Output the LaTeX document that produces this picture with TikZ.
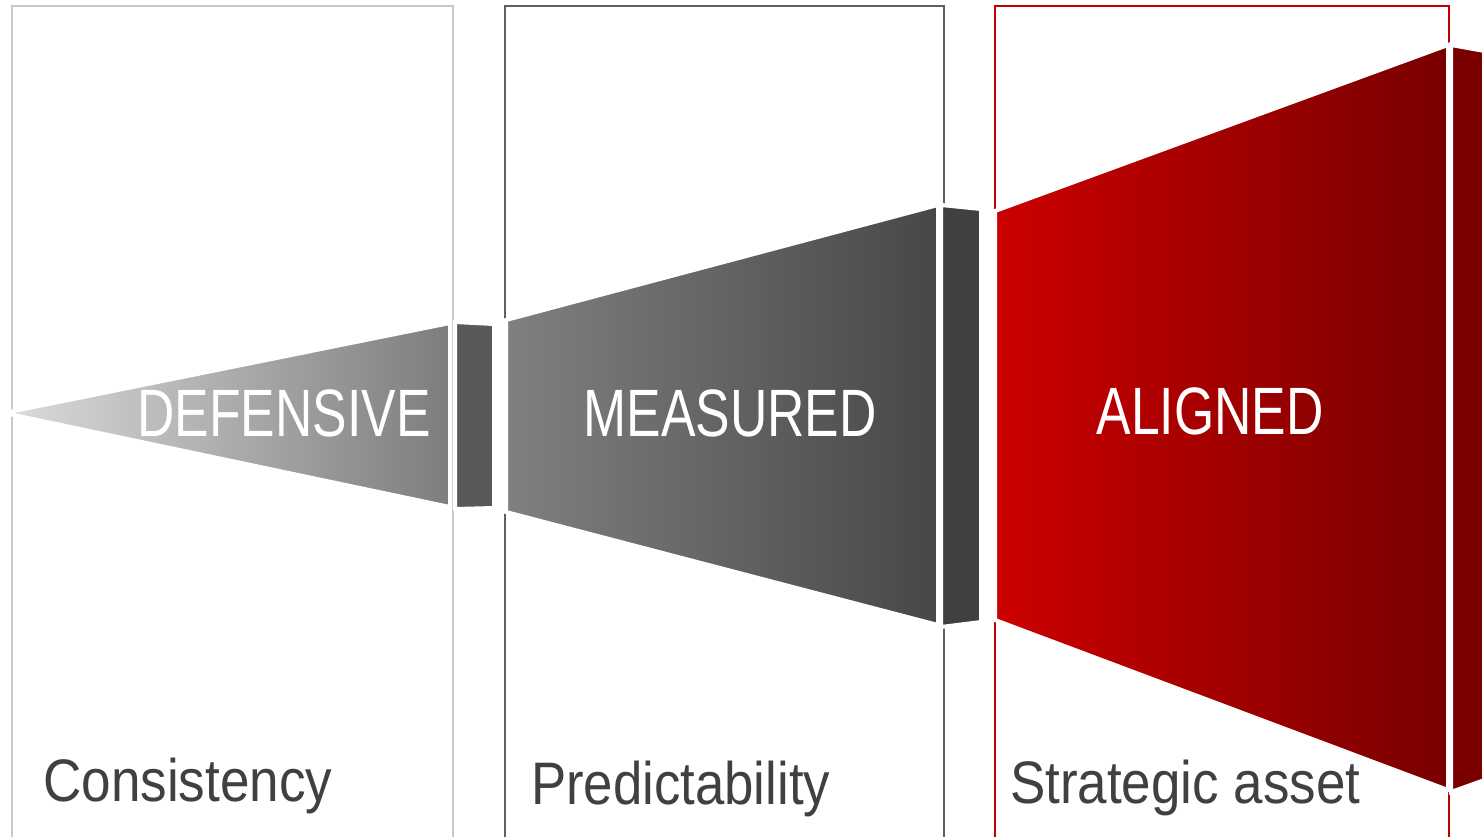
\documentclass[tikz,border=0pt]{standalone}
\usepackage{fontspec}
\setmainfont{Liberation Sans}
\usepackage{graphicx}
\definecolor{frameA}{HTML}{C8C8C8}
\definecolor{frameB}{HTML}{606060}
\definecolor{frameC}{HTML}{C00000}
\definecolor{labelgray}{HTML}{404040}
\definecolor{triL}{HTML}{DCDCDC}
\definecolor{triR}{HTML}{7D7D7D}
\definecolor{midL}{HTML}{808080}
\definecolor{midR}{HTML}{474747}
\definecolor{redL}{HTML}{CC0000}
\definecolor{redR}{HTML}{780000}
\definecolor{capA}{HTML}{595959}
\definecolor{capB}{HTML}{404040}
\definecolor{capC}{HTML}{7A0000}
% stretch text horizontally to a given width, keeping its height
\newcommand\fitwidth[2]{\resizebox{#1}{\height}{#2}}
\tikzset{
  frame/.style={line width=2pt},
  piece/.style={draw=white, line width=4pt, line join=miter},
  stage/.style={text=white, inner sep=0pt, anchor=base, font=\fontsize{67}{67}\selectfont},
  outcome/.style={text=labelgray, inner sep=0pt, anchor=base west, font=\fontsize{60}{60}\selectfont},
}
\begin{document}
\begin{tikzpicture}[x=1pt, y=-1pt]
\useasboundingbox (0,0) rectangle (1482,836);
\clip (0,0) rectangle (1482,836);

% column frames, open at the bottom
\draw[frame, frameA] (12,840) -- (12,6) -- (453,6) -- (453,840);
\draw[frame, frameB] (505,840) -- (505,6) -- (944,6) -- (944,840);
\draw[frame, frameC] (995,840) -- (995,6) -- (1449,6) -- (1449,840);

% first stage: narrow wedge and its end cap
\path[piece, left color=triL, right color=triR]
  (4,413) -- (450,323) -- (450,507) -- cycle;
\path[piece, fill=capA] (455,322) -- (494,324) -- (494,508) -- (455,509) -- cycle;

% second stage
\path[piece, left color=midL, right color=midR]
  (506,320) -- (938,205) -- (938,625) -- (506,512) -- cycle;
\path[piece, fill=capB] (941,205) -- (981,209) -- (981,622) -- (941,627) -- cycle;

% third stage
\path[piece, left color=redL, right color=redR]
  (995,211) -- (1448,45) -- (1448,790) -- (995,620) -- cycle;
\path[piece, fill=capC] (1451,45) -- (1490,52) -- (1490,778) -- (1451,792) -- cycle;

% stage names
\node[stage] (defensive) at (284,436) {\fitwidth{293pt}{DEFENSIVE}};
\node[stage] (measured) at (730,436) {\fitwidth{293pt}{MEASURED}};
\node[stage] (aligned) at (1210,434) {\fitwidth{227pt}{ALIGNED}};

% outcomes
\node[outcome] (consistency) at (43,801) {\fitwidth{289pt}{Consistency}};
\node[outcome] (predictability) at (531,804) {\fitwidth{299pt}{Predictability}};
\node[outcome] (asset) at (1010,803) {\fitwidth{350pt}{Strategic asset}};
\end{tikzpicture}
\end{document}
